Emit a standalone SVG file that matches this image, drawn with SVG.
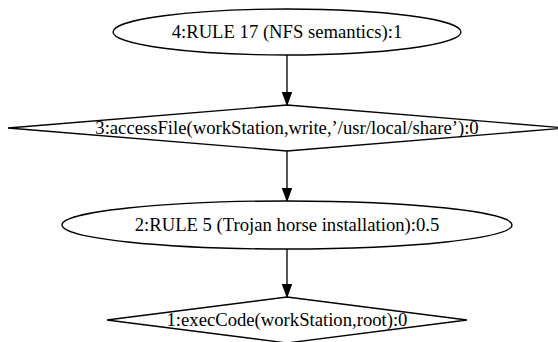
<svg xmlns="http://www.w3.org/2000/svg" width="558" height="342" viewBox="0 0 558 342">
<style>
.shape{fill:none;stroke:#000;stroke-width:1.33}
.lbl{font-family:"Liberation Serif","Times New Roman",serif;font-size:18.67px;text-anchor:middle;fill:#000}
.edge{stroke:#000;stroke-width:1.33;fill:none}
</style>
<defs>
<marker id="arr" markerWidth="14" markerHeight="10" refX="13" refY="5" orient="auto" markerUnits="userSpaceOnUse">
<polygon points="0,0.3 13,5 0,9.7" fill="#000" stroke="#000" stroke-width="1"/>
</marker>
</defs>
<rect width="558" height="342" fill="#fff"/>
<g id="connectors">
<line class="edge" x1="287" y1="55" x2="287" y2="105" marker-end="url(#arr)"/>
<line class="edge" x1="287" y1="151" x2="287" y2="201" marker-end="url(#arr)"/>
<line class="edge" x1="287" y1="249" x2="287" y2="297" marker-end="url(#arr)"/>
</g>
<g id="node4">
<ellipse class="shape" cx="287" cy="32" rx="174" ry="23"/>
<text class="lbl" x="287" y="38">4:RULE 17 (NFS semantics):1</text>
</g>
<g id="node3">
<polygon class="shape" points="287,105 566,128 287,151 8,128"/>
<text class="lbl" x="287" y="134">3:accessFile(workStation,write,’/usr/local/share’):0</text>
</g>
<g id="node2">
<ellipse class="shape" cx="287" cy="225" rx="225" ry="24"/>
<text class="lbl" x="287" y="231">2:RULE 5 (Trojan horse installation):0.5</text>
</g>
<g id="node1">
<polygon class="shape" points="287,297 467,320 287,343 107,320"/>
<text class="lbl" x="287" y="326">1:execCode(workStation,root):0</text>
</g>
</svg>
